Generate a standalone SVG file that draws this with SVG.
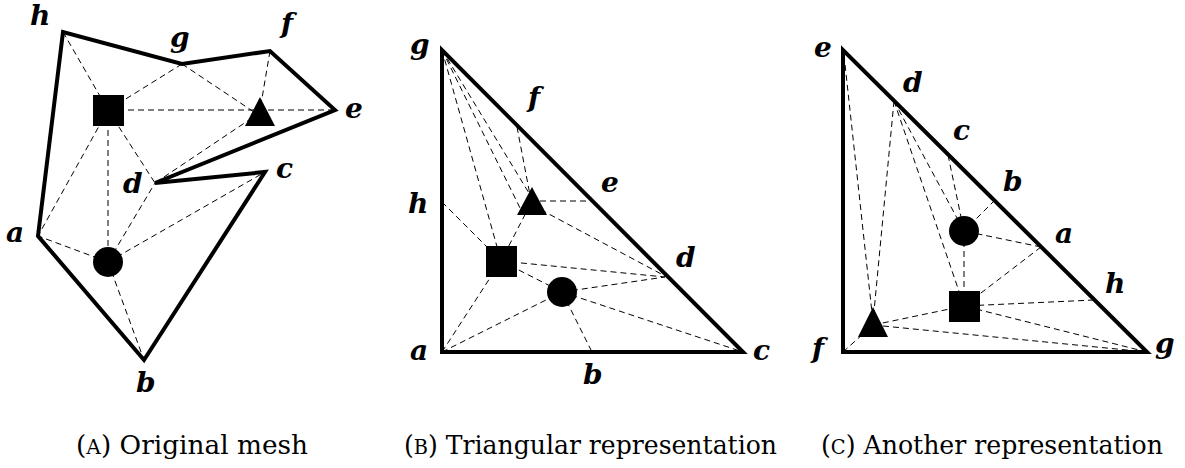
<svg xmlns="http://www.w3.org/2000/svg" width="1185" height="468" viewBox="0 0 1185 468">
<style>
.bd{fill:none;stroke:#000;stroke-width:4;stroke-linejoin:miter}
.ds{fill:none;stroke:#000;stroke-width:1;stroke-dasharray:6,4}
.sh{fill:#000;stroke:none}
.lb{font-family:"DejaVu Serif","Liberation Serif",serif;font-weight:bold;font-style:italic;font-size:28px;fill:#000}
.cp{font-family:"DejaVu Serif","Liberation Serif",serif;font-size:26px;fill:#000}
.sc{font-size:20px}
</style>
<rect width="1185" height="468" fill="#fff"/>

<!-- Panel A -->
<g id="panelA">
<g id="A-connectors">
<line class="ds" x1="63" y1="32" x2="108" y2="110"/>
<line class="ds" x1="182" y1="64" x2="108" y2="110"/>
<line class="ds" x1="182" y1="64" x2="260" y2="116"/>
<line class="ds" x1="270" y1="51" x2="260" y2="110"/>
<line class="ds" x1="108" y1="110" x2="335" y2="110"/>
<line class="ds" x1="252" y1="118" x2="155" y2="183"/>
<line class="ds" x1="108" y1="110" x2="38" y2="236"/>
<line class="ds" x1="108" y1="110" x2="108" y2="262"/>
<line class="ds" x1="108" y1="110" x2="155" y2="183"/>
<line class="ds" x1="108" y1="262" x2="38" y2="236"/>
<line class="ds" x1="108" y1="262" x2="155" y2="183"/>
<line class="ds" x1="108" y1="262" x2="265" y2="172"/>
<line class="ds" x1="108" y1="262" x2="144" y2="360"/>
</g>
<polygon id="A-mesh" class="bd" points="38,236 63,32 182,64 270,51 335,110 155,183 265,172 144,360"/>
<g id="A-square"><rect class="sh" x="93" y="95" width="31" height="31"/></g>
<g id="A-triangle"><polygon class="sh" points="260,97 245,126 275,126"/></g>
<g id="A-circle"><circle class="sh" cx="108" cy="262" r="15"/></g>
<g id="A-h"><text class="lb" x="30" y="25">h</text></g>
<g id="A-g"><text class="lb" x="170" y="47">g</text></g>
<g id="A-f"><text class="lb" x="281" y="33">f</text></g>
<g id="A-e"><text class="lb" x="345" y="118">e</text></g>
<g id="A-c"><text class="lb" x="276" y="178">c</text></g>
<g id="A-d"><text class="lb" x="123" y="193">d</text></g>
<g id="A-a"><text class="lb" x="6" y="242">a</text></g>
<g id="A-b"><text class="lb" x="136" y="392">b</text></g>
</g>

<!-- Panel B -->
<g id="panelB">
<g id="B-connectors">
<line class="ds" x1="442" y1="50" x2="501" y2="261"/>
<line class="ds" x1="442" y1="50" x2="522" y2="212"/>
<line class="ds" x1="442" y1="50" x2="532" y2="198"/>
<line class="ds" x1="517" y1="127" x2="530" y2="195"/>
<line class="ds" x1="540" y1="201" x2="590" y2="201"/>
<line class="ds" x1="532" y1="205" x2="665" y2="276"/>
<line class="ds" x1="530" y1="205" x2="501" y2="261"/>
<line class="ds" x1="442" y1="202" x2="501" y2="261"/>
<line class="ds" x1="442" y1="352" x2="501" y2="261"/>
<line class="ds" x1="442" y1="352" x2="562" y2="292"/>
<line class="ds" x1="501" y1="261" x2="562" y2="292"/>
<line class="ds" x1="501" y1="261" x2="665" y2="277"/>
<line class="ds" x1="562" y1="292" x2="665" y2="277"/>
<line class="ds" x1="562" y1="292" x2="743" y2="352"/>
<line class="ds" x1="562" y1="292" x2="592" y2="352"/>
</g>
<polygon id="B-outline" class="bd" points="442,50 442,352 743,352"/>
<g id="B-square"><rect class="sh" x="486" y="246" width="31" height="31"/></g>
<g id="B-triangle"><polygon class="sh" points="532,187 517,215 547,215"/></g>
<g id="B-circle"><circle class="sh" cx="562" cy="292" r="15"/></g>
<g id="B-g"><text class="lb" x="410" y="54">g</text></g>
<g id="B-f"><text class="lb" x="528" y="107">f</text></g>
<g id="B-e"><text class="lb" x="601" y="192">e</text></g>
<g id="B-h"><text class="lb" x="408" y="213">h</text></g>
<g id="B-d"><text class="lb" x="676" y="267">d</text></g>
<g id="B-a"><text class="lb" x="410" y="360">a</text></g>
<g id="B-b"><text class="lb" x="583" y="384">b</text></g>
<g id="B-c"><text class="lb" x="753" y="360">c</text></g>
</g>

<!-- Panel C -->
<g id="panelC">
<g id="C-connectors">
<line class="ds" x1="844" y1="55" x2="873" y2="322"/>
<line class="ds" x1="894" y1="101" x2="873" y2="322"/>
<line class="ds" x1="843" y1="352" x2="873" y2="325"/>
<line class="ds" x1="873" y1="325" x2="1147" y2="352"/>
<line class="ds" x1="873" y1="325" x2="964" y2="306"/>
<line class="ds" x1="894" y1="101" x2="964" y2="306"/>
<line class="ds" x1="894" y1="101" x2="964" y2="231"/>
<line class="ds" x1="948" y1="155" x2="964" y2="231"/>
<line class="ds" x1="995" y1="200" x2="964" y2="231"/>
<line class="ds" x1="1041" y1="247" x2="964" y2="231"/>
<line class="ds" x1="964" y1="231" x2="964" y2="306"/>
<line class="ds" x1="1041" y1="247" x2="964" y2="306"/>
<line class="ds" x1="1094" y1="300" x2="964" y2="306"/>
<line class="ds" x1="1147" y1="352" x2="964" y2="306"/>
</g>
<polygon id="C-outline" class="bd" points="843,50 843,352 1147,352"/>
<g id="C-square"><rect class="sh" x="949" y="291" width="31" height="31"/></g>
<g id="C-triangle"><polygon class="sh" points="873,307 858,337 888,337"/></g>
<g id="C-circle"><circle class="sh" cx="964" cy="231" r="15"/></g>
<g id="C-e"><text class="lb" x="814" y="57">e</text></g>
<g id="C-d"><text class="lb" x="903" y="92">d</text></g>
<g id="C-c"><text class="lb" x="953" y="140">c</text></g>
<g id="C-b"><text class="lb" x="1003" y="191">b</text></g>
<g id="C-a"><text class="lb" x="1055" y="243">a</text></g>
<g id="C-h"><text class="lb" x="1105" y="293">h</text></g>
<g id="C-f"><text class="lb" x="812" y="358">f</text></g>
<g id="C-g"><text class="lb" x="1155" y="353">g</text></g>
</g>

<!-- Captions -->
<g id="captions">
<text class="cp" x="76" y="454" textLength="232" lengthAdjust="spacingAndGlyphs">(<tspan class="sc">A</tspan>) Original mesh</text>
<text class="cp" x="404" y="454" textLength="373" lengthAdjust="spacingAndGlyphs">(<tspan class="sc">B</tspan>) Triangular representation</text>
<text class="cp" x="821" y="454" textLength="342" lengthAdjust="spacingAndGlyphs">(<tspan class="sc">C</tspan>) Another representation</text>
</g>
</svg>
